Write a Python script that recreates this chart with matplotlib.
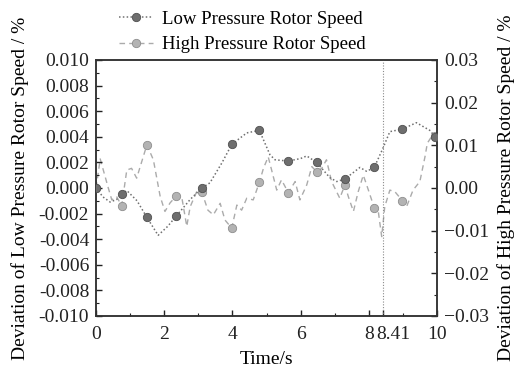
import matplotlib
matplotlib.use("Agg")
import matplotlib.pyplot as plt
from matplotlib.ticker import MultipleLocator, FuncFormatter, FixedLocator
from matplotlib.transforms import ScaledTranslation

plt.rcParams['font.family'] = ['Liberation Serif', 'DejaVu Serif']

# Low pressure rotor speed deviation (left axis)
lp_t = [0.0, 0.2, 0.41, 0.6, 0.75, 0.9, 1.2, 1.49, 1.82, 2.1, 2.35, 2.76, 3.1, 3.34,
        3.7, 3.98, 4.42, 4.79, 5.1, 5.25, 5.64, 6.0, 6.18, 6.47, 6.86, 7.06, 7.3,
        7.74, 7.94, 8.16, 8.4, 8.62, 8.99, 9.4, 9.79, 9.95, 10.0]
lp_v = [0.0, -0.0007, -0.0011, -0.0009, -0.0005, -0.0002, -0.0010, -0.0023, -0.0037,
        -0.0030, -0.0022, -0.0009, 0.0, 0.0004, 0.0020, 0.0034, 0.0043, 0.0045, 0.0026,
        0.0022, 0.0021, 0.0023, 0.0025, 0.0020, 0.0008, 0.0005, 0.0007, 0.0016, 0.0013,
        0.0016, 0.0030, 0.0044, 0.0046, 0.0051, 0.0045, 0.0040, 0.0038]
lp_marks = [0, 4, 7, 10, 12, 15, 17, 20, 23, 26, 29, 32, 35]

# High pressure rotor speed deviation (right axis)
hp_t = [0.0, 0.12, 0.35, 0.46, 0.6, 0.75, 0.9, 1.04, 1.19, 1.49, 1.68, 1.88, 2.02, 2.17,
        2.35, 2.51, 2.66, 2.76, 2.95, 3.1, 3.28, 3.44, 3.64, 3.78, 3.98, 4.13, 4.27, 4.42,
        4.61, 4.79, 4.91, 5.05, 5.15, 5.3, 5.44, 5.64, 5.84, 5.98, 6.18, 6.33, 6.47, 6.62,
        6.76, 6.91, 7.15, 7.3, 7.4, 7.55, 7.69, 7.84, 7.99, 8.16, 8.28, 8.38, 8.42, 8.47,
        8.62, 8.77, 8.99, 9.11, 9.3, 9.5, 9.65, 9.72, 9.84, 9.95, 10.0]
hp_v = [0.0, 0.0068, 0.0002, -0.0028, -0.0020, -0.0042, 0.0042, 0.0046, 0.0023, 0.0101,
        0.0066, -0.0020, -0.0055, -0.0035, -0.0019, -0.0020, -0.0090, -0.0044, -0.0009,
        -0.0009, -0.0052, -0.0063, -0.0036, -0.0075, -0.0094, -0.0040, -0.0052, -0.0024,
        -0.0028, 0.0013, 0.0046, 0.0073, 0.0042, -0.0005, 0.0019, -0.0011, 0.0015, -0.0028,
        0.0007, 0.0050, 0.0038, 0.0046, 0.0066, 0.0015, -0.0024, 0.0007, -0.0020, -0.0055,
        -0.0009, 0.0030, -0.0005, -0.0046, -0.0055, -0.0114, -0.0083, -0.0044, -0.0005,
        -0.0009, -0.0030, -0.0044, -0.0005, 0.0015, 0.0073, 0.0105, 0.0120, 0.0121, 0.0120]
hp_marks = [0, 5, 9, 14, 19, 24, 29, 35, 40, 45, 51, 58, 65]

event_t = 8.41
x_ticks = [0, 2, 4, 6, 8, 8.41, 10]
x_tick_labels = ['0', '2', '4', '6', '8', '8.41', '10']

fig = plt.figure(figsize=(5.14, 3.70), dpi=100)
ax = fig.add_axes([0.187, 0.146, 0.663, 0.692])
ax2 = ax.twinx()

l1, = ax.plot(lp_t, lp_v, linestyle=(0, (1, 1.5)), color='#707070', lw=1.1,
              marker='o', markevery=lp_marks, ms=6, mfc='#6e6e6e', mec='#505050', mew=0.6,
              label='Low Pressure Rotor Speed', zorder=3)
l2, = ax2.plot(hp_t, hp_v, linestyle=(0, (4, 3)), color='#ababab', lw=1.0,
               marker='o', markevery=hp_marks, ms=6, mfc='#b3b3b3', mec='#8e8e8e', mew=0.6,
               label='High Pressure Rotor Speed', zorder=2)
ax.set_zorder(ax2.get_zorder() + 1)
ax.patch.set_visible(False)

ax.axvline(event_t, color='#8a8a8a', lw=0.8, linestyle=(0, (1, 1.5)))

ax.set_xlim(0, 10)
ax.set_ylim(-0.010, 0.010)
ax2.set_ylim(-0.03, 0.03)

ax.xaxis.set_major_locator(FixedLocator(x_ticks))
ax.set_xticklabels(x_tick_labels)
ax.xaxis.set_minor_locator(FixedLocator([1, 3, 5, 7, 9]))
ax.yaxis.set_major_locator(MultipleLocator(0.002))
ax.yaxis.set_minor_locator(MultipleLocator(0.001))
ax.yaxis.set_major_formatter(FuncFormatter(lambda v, p: '%.3f' % v if abs(v) > 1e-9 else '0.000'))
ax2.yaxis.set_major_locator(MultipleLocator(0.01))
ax2.yaxis.set_minor_locator(MultipleLocator(0.005))
ax2.yaxis.set_major_formatter(FuncFormatter(
    lambda v, p: ('%.2f' % v).replace('-', '\u2212') if abs(v) > 1e-9 else '0.00'))

for a in (ax, ax2):
    a.tick_params(which='both', direction='in', labelsize=14, colors='#222222')
    a.tick_params(which='major', length=4, width=1)
    a.tick_params(which='minor', length=2.5, width=0.8)
    for s in a.spines.values():
        s.set_color('#333333')
        s.set_linewidth(1.1)
ax.tick_params(axis='x', pad=7)
ax.tick_params(axis='y', pad=5)
ax2.tick_params(axis='y', pad=5)

# shift the 8.41 label right so it does not collide with 8
for lbl in ax.get_xticklabels():
    if lbl.get_text() == '8.41':
        lbl.set_transform(lbl.get_transform() + ScaledTranslation(0.11, 0, fig.dpi_scale_trans))

ax.set_xlabel('Time/s', fontsize=14, labelpad=6)
ax.set_ylabel('Deviation of Low Pressure Rotor Speed / %', fontsize=14, labelpad=7)
ax2.set_ylabel('Deviation of High Pressure Rotor Speed / %', fontsize=14, labelpad=6,
               rotation=90)

fig.legend(handles=[l1, l2], loc='upper left', bbox_to_anchor=(0.199, 1.017), frameon=False,
           fontsize=13.5, handlelength=1.8, handletextpad=0.5, labelspacing=0.45)

fig.savefig('out.png', dpi=100)
